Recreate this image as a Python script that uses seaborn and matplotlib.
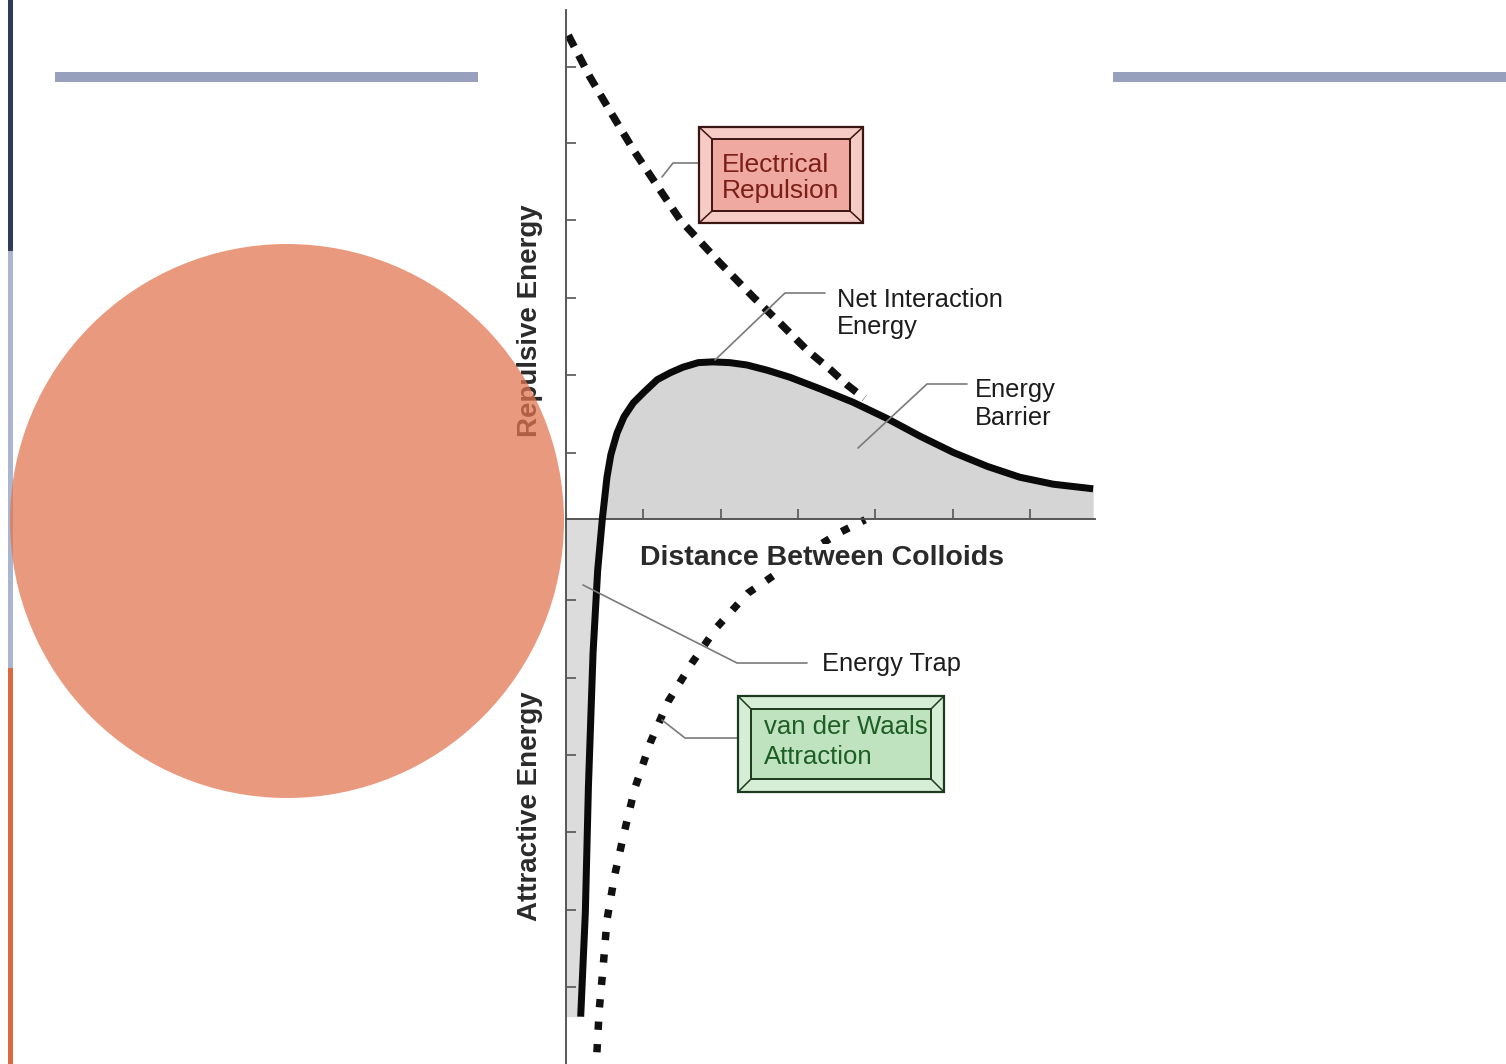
import numpy as np
import matplotlib
matplotlib.use("Agg")
import matplotlib.pyplot as plt
from matplotlib.patches import Rectangle, Circle
import seaborn as sns

# curves (x in distance ticks, y in energy ticks)
net_x = [0.19, 0.25, 0.29, 0.35, 0.41, 0.47, 0.53, 0.58, 0.66, 0.75, 0.87, 1.01,
         1.18, 1.35, 1.51, 1.71, 1.90, 2.12, 2.34, 2.61, 2.90, 3.29, 3.71, 4.15,
         4.58, 5.01, 5.45, 5.87, 6.30, 6.82]
net_y = [-6.43, -5.09, -3.46, -1.73, -0.66, 0.0, 0.54, 0.83, 1.11, 1.32, 1.50, 1.64,
         1.80, 1.89, 1.96, 2.02, 2.03, 2.02, 1.99, 1.92, 1.83, 1.68, 1.51, 1.30,
         1.07, 0.86, 0.68, 0.54, 0.45, 0.39]

rep_x = [0.03, 0.31, 0.60, 0.89, 1.19, 1.48, 1.99, 2.42, 2.77, 3.12, 3.42, 3.64, 3.86]
rep_y = [6.25, 5.71, 5.22, 4.74, 4.29, 3.86, 3.31, 2.87, 2.53, 2.18, 1.93, 1.73, 1.56]

vdw_x = [0.40, 0.43, 0.48, 0.53, 0.63, 0.76, 0.89, 1.09, 1.32, 1.63, 1.95, 2.35,
         2.60, 3.03, 3.55, 3.87]
vdw_y = [-6.89, -6.34, -5.79, -5.18, -4.60, -4.02, -3.48, -2.89, -2.36, -1.86, -1.40,
         -0.96, -0.79, -0.49, -0.17, -0.01]

x_ticks = [1, 2, 3, 4, 5, 6]
y_ticks = [5.84, 4.86, 3.86, 2.86, 1.86, 0.85, -1.05, -2.05, -3.05, -4.04, -5.05, -6.05]

W, H = 1506, 1064
X0, Y0, UX, UY = 566, 519, 77.3, 77.4   # pixel origin and pixels per tick

sns.set_theme(style="white")
plt.rcParams['font.family'] = ['Liberation Sans', 'DejaVu Sans']

fig = plt.figure(figsize=(W / 100, H / 100), dpi=100)
fig.patch.set_facecolor('white')

# slide background (pixel coordinates)
ax_bg = fig.add_axes([0, 0, 1, 1], zorder=0)
ax_bg.set_xlim(0, W)
ax_bg.set_ylim(H, 0)
ax_bg.axis('off')
pix = ax_bg.transData

ax_bg.add_patch(Rectangle((8, 0), 5, 251, fc='#2f3c58', ec='none'))
ax_bg.add_patch(Rectangle((8, 251), 5, 417, fc='#aab6cf', ec='none'))
ax_bg.add_patch(Rectangle((8, 668), 5, H - 668, fc='#d9693e', ec='none'))
ax_bg.add_patch(Rectangle((55, 72), 423, 10, fc='#97a1bd', ec='none'))
ax_bg.add_patch(Rectangle((1113, 72), W - 1113, 10, fc='#97a1bd', ec='none'))

# the chart itself
ax = fig.add_axes([0, 0, 1, 1], zorder=1)
ax.patch.set_alpha(0)
ax.set_axisbelow(False)

net_x = np.array(net_x)
net_y = np.array(net_y)
pos = net_y >= 0
neg = net_y <= 0
ax.fill_between(net_x[pos], net_y[pos], 0, color='#d5d5d5', lw=0, zorder=1)
ax.fill_betweenx(net_y[neg], 0, net_x[neg], color='#dcdcdc', lw=0, zorder=1)

sns.lineplot(x=vdw_x, y=vdw_y, ax=ax, sort=False, estimator=None, color='#111111',
             lw=7.5 * 0.72, linestyle=(0, (1.1, 1.9)), dash_capstyle='butt', zorder=2)
sns.lineplot(x=rep_x, y=rep_y, ax=ax, sort=False, estimator=None, color='#111111',
             lw=7.5 * 0.72, linestyle=(0, (1.7, 1.3)), dash_capstyle='butt', zorder=2)
sns.lineplot(x=net_x, y=net_y, ax=ax, sort=False, estimator=None, color='#0a0a0a',
             lw=7 * 0.72, solid_capstyle='butt', solid_joinstyle='round', zorder=3)

ax.set_xlim(-X0 / UX, (W - X0) / UX)
ax.set_ylim((Y0 - H) / UY, Y0 / UY)
for s in ['top', 'right']:
    ax.spines[s].set_visible(False)
ax.spines['left'].set_position(('data', 0))
ax.spines['bottom'].set_position(('data', 0))
ax.spines['left'].set_bounds((Y0 - H) / UY, (Y0 - 10) / UY)
ax.spines['bottom'].set_bounds(0, (1095 - X0) / UX)
for s in ['left', 'bottom']:
    ax.spines[s].set_color('#4a4a4a')
    ax.spines[s].set_linewidth(1.3)
    ax.spines[s].set_zorder(2.5)
ax.set_xticks(x_ticks)
ax.set_yticks(y_ticks)
ax.set_xticklabels([])
ax.set_yticklabels([])
ax.tick_params(left=True, bottom=True, direction='in', length=7, width=1.2,
               color='#555555')
ax.grid(False)
ax.set_xlabel('')
ax.set_ylabel('')

ink = '#1c1c1c'
ax.text(640, 565, 'Distance Between Colloids', transform=pix, fontsize=20.5,
        fontweight='bold', color='#2a2a2a', va='baseline', zorder=5,
        bbox=dict(fc='white', ec='none', pad=1))
ax.text(530, 321, 'Repulsive Energy', transform=pix, fontsize=20, fontweight='bold',
        color='#2a2a2a', rotation=90, ha='center', va='center', zorder=5)
ax.text(530, 806, 'Attractive Energy', transform=pix, fontsize=20, fontweight='bold',
        color='#2a2a2a', rotation=90, ha='center', va='center', zorder=5)


def bevel_box(x0, y0, x1, y1, outer, inner, edge, dx=13, dy=12):
    ax.add_patch(Rectangle((x0, y0), x1 - x0, y1 - y0, transform=pix, fc=outer,
                           ec=edge, lw=1.6, zorder=4))
    ax.add_patch(Rectangle((x0 + dx, y0 + dy), x1 - x0 - 2 * dx, y1 - y0 - 2 * dy,
                           transform=pix, fc=inner, ec=edge, lw=1.4, zorder=4))
    for (ax_, ay_), (bx_, by_) in [((x0, y0), (x0 + dx, y0 + dy)),
                                   ((x1, y0), (x1 - dx, y0 + dy)),
                                   ((x0, y1), (x0 + dx, y1 - dy)),
                                   ((x1, y1), (x1 - dx, y1 - dy))]:
        ax.plot([ax_, bx_], [ay_, by_], transform=pix, color=edge, lw=1.1, zorder=4)


def leader(xs, ys):
    ax.plot(xs, ys, transform=pix, color='#7a7a7a', lw=1.2, zorder=3.5)


bevel_box(699, 127, 863, 223, '#f6cbc6', '#efa9a1', '#3b1512')
ax.text(722, 172, 'Electrical', transform=pix, fontsize=19, color='#7b1f17',
        va='baseline', zorder=5)
ax.text(722, 198, 'Repulsion', transform=pix, fontsize=19, color='#7b1f17',
        va='baseline', zorder=5)

bevel_box(738, 696, 944, 792, '#d6eed6', '#bfe2bf', '#1e3a1e', dx=13, dy=13)
ax.text(764, 734, 'van der Waals', transform=pix, fontsize=18.5, color='#1d5e25',
        va='baseline', zorder=5)
ax.text(764, 764, 'Attraction', transform=pix, fontsize=18.5, color='#1d5e25',
        va='baseline', zorder=5)

ax.text(837, 307, 'Net Interaction', transform=pix, fontsize=18.3, color=ink,
        va='baseline', zorder=5)
ax.text(837, 334, 'Energy', transform=pix, fontsize=18.3, color=ink,
        va='baseline', zorder=5)
ax.text(975, 397, 'Energy', transform=pix, fontsize=18.3, color=ink,
        va='baseline', zorder=5)
ax.text(975, 425, 'Barrier', transform=pix, fontsize=18.3, color=ink,
        va='baseline', zorder=5)
ax.text(822, 671, 'Energy Trap', transform=pix, fontsize=18.3, color=ink,
        va='baseline', zorder=5)

leader([662, 673, 699], [177, 163, 163])
leader([715, 785, 825], [360, 293, 293])
leader([858, 927, 967], [448, 384, 384])
leader([583, 737, 807], [585, 663, 663])
leader([662, 685, 740], [720, 738, 738])

# slide circle on top (partly over the axis label)
ax_top = fig.add_axes([0, 0, 1, 1], zorder=2)
ax_top.set_xlim(0, W)
ax_top.set_ylim(H, 0)
ax_top.axis('off')
ax_top.patch.set_alpha(0)
ax_top.add_patch(Circle((287, 521), 277, fc='#e2754e', ec='none', alpha=0.73))

fig.savefig('out.png', dpi=100)
